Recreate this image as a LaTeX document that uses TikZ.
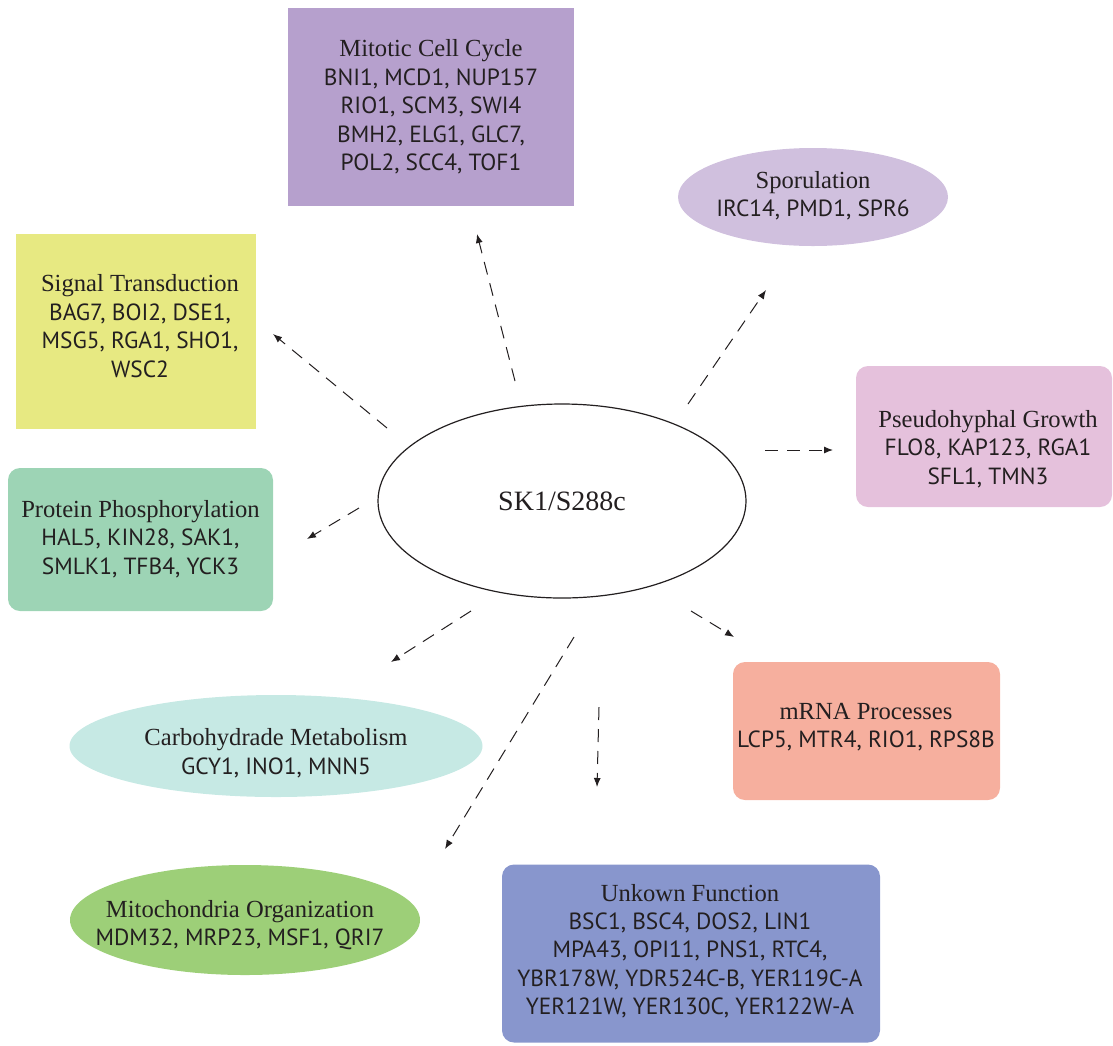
\documentclass[tikz,border=0pt]{standalone}
\usepackage{fontspec}
\setmainfont{Liberation Serif}
\newfontfamily\genefont{PT Sans}
\usepackage{xcolor}
\usetikzlibrary{arrows.meta, shapes.geometric}

\definecolor{ink}{HTML}{231F20}
\definecolor{mitotic}{HTML}{B6A0CD}
\definecolor{sporul}{HTML}{D0C0DE}
\definecolor{signal}{HTML}{E7E982}
\definecolor{pseudo}{HTML}{E5C1DC}
\definecolor{phospho}{HTML}{9DD4B5}
\definecolor{mrna}{HTML}{F6AF9E}
\definecolor{carbo}{HTML}{C6E9E4}
\definecolor{mitoch}{HTML}{9DCF78}
\definecolor{unknown}{HTML}{8896CD}

\newcommand{\grptitle}[1]{{\rmfamily\fontsize{12.3}{15}\selectfont #1}}

\begin{document}
\begin{tikzpicture}[
  x=0.5pt, y=-0.5pt,
  group/.style={rectangle, draw=none, inner sep=0pt},
  rgroup/.style={group, rounded corners=6pt},
  egroup/.style={group, ellipse},
  genes/.style={align=center, text=ink, inner sep=0pt,
                font=\genefont\fontsize{11.7}{14.2}\selectfont},
  hub/.style={ellipse, draw=ink, line width=0.6pt, fill=white, text=ink,
              minimum width=184pt, minimum height=97pt, font=\fontsize{14}{16}\selectfont},
  arr/.style={-{Latex[length=4.5pt, width=3.5pt]}, line width=0.5pt, draw=ink,
              dash pattern=on 6.5pt off 4.5pt}
]
  \useasboundingbox (0,0) rectangle (1113,1045);

  \node[hub] (strain) at (562,501) {SK1/S288c};

  \node[group, fill=mitotic, minimum width=143pt, minimum height=99pt] (mitotic) at (431,107) {};
  \node[genes] (mitotic-text) at (431,107)
    {\grptitle{Mitotic Cell Cycle}\\BNI1, MCD1, NUP157\\RIO1, SCM3, SWI4\\BMH2, ELG1, GLC7,\\POL2, SCC4, TOF1};

  \node[egroup, fill=sporul, minimum width=135pt, minimum height=49pt] (sporulation) at (813,197) {};
  \node[genes] (sporulation-text) at (813,196)
    {\grptitle{Sporulation}\\IRC14, PMD1, SPR6};

  \node[group, fill=signal, minimum width=120pt, minimum height=97.5pt] (signal) at (136,331.5) {};
  \node[genes] (signal-text) at (140,326)
    {\grptitle{Signal Transduction}\\BAG7, BOI2, DSE1,\\MSG5, RGA1, SHO1,\\WSC2};

  \node[rgroup, fill=pseudo, minimum width=128pt, minimum height=70.5pt] (pseudo) at (984,436.5) {};
  \node[genes] (pseudo-text) at (988,449)
    {\grptitle{Pseudohyphal Growth}\\FLO8, KAP123, RGA1\\SFL1, TMN3};

  \node[rgroup, fill=phospho, minimum width=132.5pt, minimum height=71.5pt] (phospho) at (140.5,539.5) {};
  \node[genes] (phospho-text) at (140.5,539)
    {\grptitle{Protein Phosphorylation}\\HAL5, KIN28, SAK1,\\SMLK1, TFB4, YCK3};

  \node[rgroup, fill=mrna, minimum width=133.5pt, minimum height=69pt] (mrna) at (866.5,731) {};
  \node[genes] (mrna-text) at (866,727)
    {\grptitle{mRNA Processes}\\LCP5, MTR4, RIO1, RPS8B};

  \node[egroup, fill=carbo, minimum width=206.5pt, minimum height=51pt] (carbo) at (276,746) {};
  \node[genes] (carbo-text) at (276,753)
    {\grptitle{Carbohydrade Metabolism}\\GCY1, INO1, MNN5};

  \node[egroup, fill=mitoch, minimum width=175pt, minimum height=55pt] (mitoch) at (245,920) {};
  \node[genes] (mitoch-text) at (240,925)
    {\grptitle{Mitochondria Organization}\\MDM32, MRP23, MSF1, QRI7};

  \node[rgroup, fill=unknown, minimum width=189pt, minimum height=89pt] (unknown) at (691,953.5) {};
  \node[genes] (unknown-text) at (690,951)
    {\grptitle{Unkown Function}\\BSC1, BSC4, DOS2, LIN1\\MPA43, OPI11, PNS1, RTC4,\\YBR178W, YDR524C-B, YER119C-A\\YER121W, YER130C, YER122W-A};

  \coordinate (mitotic-s) at (515,381);  \coordinate (mitotic-t) at (477,234);
  \coordinate (signal-s)  at (387,428);  \coordinate (signal-t)  at (273,334);
  \coordinate (sporul-s)  at (688,404);  \coordinate (sporul-t)  at (766,290);
  \coordinate (pseudo-s)  at (765,450);  \coordinate (pseudo-t)  at (833,450);
  \coordinate (phospho-s) at (359,508);  \coordinate (phospho-t) at (307,539);
  \coordinate (carbo-s)   at (471,611);  \coordinate (carbo-t)   at (391,662);
  \coordinate (mitoch-s)  at (574,637);  \coordinate (mitoch-t)  at (445,849);
  \coordinate (unknown-s) at (599,707);  \coordinate (unknown-t) at (597,787);
  \coordinate (mrna-s)    at (691,611);  \coordinate (mrna-t)    at (734,637);

  \draw[arr] (mitotic-s) -- (mitotic-t);
  \draw[arr] (signal-s) -- (signal-t);
  \draw[arr] (sporul-s) -- (sporul-t);
  \draw[arr] (pseudo-s) -- (pseudo-t);
  \draw[arr] (phospho-s) -- (phospho-t);
  \draw[arr] (carbo-s) -- (carbo-t);
  \draw[arr] (mitoch-s) -- (mitoch-t);
  \draw[arr] (unknown-s) -- (unknown-t);
  \draw[arr] (mrna-s) -- (mrna-t);
\end{tikzpicture}
\end{document}
